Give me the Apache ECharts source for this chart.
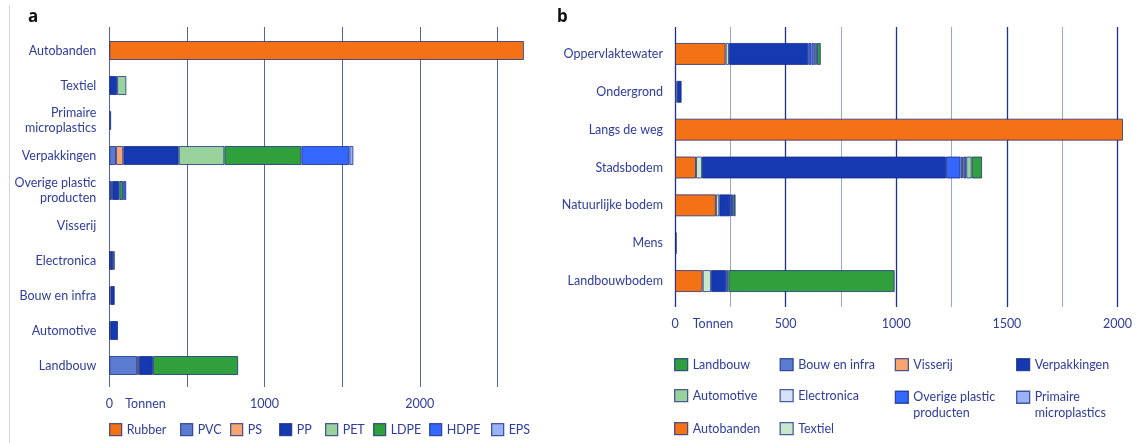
<!DOCTYPE html>
<html><head><meta charset="utf-8">
<script src="https://cdn.jsdelivr.net/npm/echarts@6/dist/echarts.min.js"></script>
<style>html,body{margin:0;padding:0;background:#fff}#c{width:1137px;height:443px}</style>
</head><body><div id="c"></div>
<script>
// ---------- Panel a data ----------
const aCategories = ['Autobanden','Textiel','Primaire\nmicroplastics','Verpakkingen','Overige plastic\nproducten','Visserij','Electronica','Bouw en infra','Automotive','Landbouw'];
const aRubber = [2670,0,0,0,0,0,0,0,0,0];
const aPVC    = [0,0,0,43,14,0,5,8,6,179];
const aPS     = [0,0,0,47,5,0,0,0,0,12];
const aPP     = [0,50,0,357,45,0,20,27,50,90];
const aPET    = [0,60,0,294,0,0,0,0,0,0];
const aLDPE   = [0,0,0,496,25,0,10,0,0,549];
const aHDPE   = [0,0,12,309,20,0,0,0,0,0];
const aEPS    = [0,0,0,26,0,0,0,0,0,0];
const aTicks  = ['0','1000','2000'];

// ---------- Panel b data ----------
const bCategories = ['Oppervlaktewater','Ondergrond','Langs de weg','Stadsbodem','Natuurlijke bodem','Mens','Landbouwbodem'];
const bAutobanden   = [229,0,2025,95,185,0,125];
const bTextiel      = [15,8,0,27,15,0,38];
const bVerpakkingen = [358,22,0,1103,50,8,68];
const bOverige      = [15,0,0,65,9,0,0];
const bElectronica  = [0,0,0,8,0,0,0];
const bPrimaire     = [0,0,0,6,0,0,0];
const bBouw         = [15,0,0,12,5,0,10];
const bVisserij     = [0,0,0,0,0,0,0];
const bAutomotive   = [10,0,0,25,0,0,0];
const bLandbouw     = [17,0,0,47,10,0,752];
const bTicks = ['0','500','1000','1500','2000'];

const TXT = '#2e3d9c';
const FONT = 'Lato';
const FS = 12.5;
const BORDER = 'rgba(22,40,130,0.75)';

const nz = arr => arr.map(v => v === 0 ? '-' : v);

const aSeriesDef = [
  ['Rubber', aRubber, '#F47216'],
  ['PVC', aPVC, '#5B7BD1'],
  ['PS', aPS, '#F8A66F'],
  ['PP', aPP, '#1439B0'],
  ['PET', aPET, '#99D39B'],
  ['LDPE', aLDPE, '#2FA03B'],
  ['HDPE', aHDPE, '#3467FE'],
  ['EPS', aEPS, '#98B3F7']
];
const bSeriesDef = [
  ['Autobanden', bAutobanden, '#F47216'],
  ['Textiel', bTextiel, '#C8E8CB'],
  ['Verpakkingen', bVerpakkingen, '#1439B0'],
  ['Overige plastic producten', bOverige, '#3467FE'],
  ['Electronica', bElectronica, '#D7E2F9'],
  ['Primaire microplastics', bPrimaire, '#98B3F7'],
  ['Bouw en infra', bBouw, '#5B7BD1'],
  ['Visserij', bVisserij, '#F8A66F'],
  ['Automotive', bAutomotive, '#99D39B'],
  ['Landbouw', bLandbouw, '#2FA03B']
];

const series = [];
aSeriesDef.forEach(([n, d, c]) => series.push({
  name: n, type: 'bar', stack: 'a', xAxisIndex: 1, yAxisIndex: 1, barWidth: 19, clip: false,
  data: nz(d), itemStyle: {color: c, borderColor: BORDER, borderWidth: 1}, emphasis: {disabled: true}
}));
bSeriesDef.forEach(([n, d, c]) => series.push({
  name: n, type: 'bar', stack: 'b', xAxisIndex: 3, yAxisIndex: 3, barWidth: 22, clip: false,
  data: nz(d), itemStyle: {color: c, borderColor: BORDER, borderWidth: 1}, emphasis: {disabled: true}
}));

// legends (one per item, positioned like the reference)
const legends = [];
const aLegPos = [[109,431],[180,431],[230,431],[279,431],[325,431],[373,431],[429,431],[491,431]];
aSeriesDef.forEach(([n], i) => legends.push({
  data: [n], left: aLegPos[i][0], top: aLegPos[i][1] - 8, padding: 0, icon: 'rect',
  itemWidth: 12, itemHeight: 12, selectedMode: false,
  itemStyle: {borderColor: BORDER, borderWidth: 1.3},
  textStyle: {color: TXT, fontFamily: FONT, fontSize: FS}
}));
const bLegendItems = [
  ['Landbouw', 674, 366, 1], ['Bouw en infra', 779.5, 366, 1], ['Visserij', 894.7, 366, 1], ['Verpakkingen', 1016, 366, 1],
  ['Automotive', 674, 397, 1], ['Electronica', 779.5, 397, 1], ['Overige plastic producten', 894.7, 397, 2], ['Primaire microplastics', 1016, 397, 2],
  ['Autobanden', 674, 430, 1], ['Textiel', 779.5, 430, 1]
];
bLegendItems.forEach(([n, x, y, lines]) => legends.push({
  data: [n], left: x, top: lines === 1 ? y - 8 : y - 23, padding: 0, icon: 'rect',
  itemWidth: 13, itemHeight: 12, selectedMode: false,
  itemStyle: {borderColor: BORDER, borderWidth: 1.3},
  formatter: name => name === 'Overige plastic producten' ? '\nOverige plastic\nproducten' :
                     name === 'Primaire microplastics' ? '\nPrimaire\nmicroplastics' : name,
  textStyle: lines === 1 ? {color: TXT, fontFamily: FONT, fontSize: FS}
                         : {color: TXT, fontFamily: FONT, fontSize: FS, lineHeight: 15.5}
}));

const option = {
  animation: false,
  grid: [
    {left: 109.3, right: 639.5, top: 27, bottom: 56},
    {left: 109.3, right: 639.5, top: 33, bottom: 60},
    {left: 675, right: 19.5, top: 27, bottom: 136},
    {left: 675, right: 19.5, top: 35, bottom: 143}
  ],
  xAxis: [
    {gridIndex: 0, type: 'value', min: 0, max: 2500, interval: 500,
     axisLine: {show: false}, axisTick: {show: false},
     axisLabel: {margin: 10, color: TXT, fontFamily: FONT, fontSize: FS,
       formatter: v => aTicks.includes(String(v)) ? String(v) : ''},
     splitLine: {show: true, lineStyle: {color: '#5064b6', width: 1}}},
    {gridIndex: 1, type: 'value', min: 0, max: 2500, show: false},
    {gridIndex: 2, type: 'value', min: 0, max: 2000, interval: 500,
     axisLine: {show: false}, axisTick: {show: false},
     axisLabel: {margin: 10, color: TXT, fontFamily: FONT, fontSize: FS,
       formatter: v => bTicks.includes(String(v)) ? String(v) : ''},
     minorTick: {show: false, splitNumber: 2},
     minorSplitLine: {show: true, lineStyle: {color: '#98a5d8', width: 1}},
     splitLine: {show: true, lineStyle: {color: '#1f3190', width: 1.3}}},
    {gridIndex: 3, type: 'value', min: 0, max: 2000, show: false}
  ],
  yAxis: [
    {gridIndex: 0, type: 'value', show: false},
    {gridIndex: 1, type: 'category', data: aCategories, inverse: true,
     axisLine: {show: false}, axisTick: {show: false},
     axisLabel: {margin: 13, color: TXT, fontFamily: FONT, fontSize: FS, lineHeight: 14.5, align: 'right'}},
    {gridIndex: 2, type: 'value', show: false},
    {gridIndex: 3, type: 'category', data: bCategories, inverse: true,
     axisLine: {show: false}, axisTick: {show: false},
     axisLabel: {margin: 12, color: TXT, fontFamily: FONT, fontSize: FS, align: 'right'}}
  ],
  legend: legends,
  graphic: [
    {type: 'line', shape: {x1: 9.5, y1: 5, x2: 9.5, y2: 443}, style: {stroke: '#d4d4d4', lineWidth: 1}},
    {type: 'text', left: 28, top: 9, style: {text: 'a', font: 'bold 17px "Noto Sans"', fill: '#111'}},
    {type: 'text', left: 557, top: 9, style: {text: 'b', font: 'bold 17px "Noto Sans"', fill: '#111'}},
    {type: 'text', x: 145.5, y: 404, style: {text: 'Tonnen', font: FS + 'px Lato', fill: TXT, textAlign: 'center', textVerticalAlign: 'middle'}},
    {type: 'text', x: 713, y: 324, style: {text: 'Tonnen', font: FS + 'px Lato', fill: TXT, textAlign: 'center', textVerticalAlign: 'middle'}}
  ],
  series: series
};
const chart = echarts.init(document.getElementById('c'), null, {renderer: 'canvas'});
chart.setOption(option);
</script></body></html>
